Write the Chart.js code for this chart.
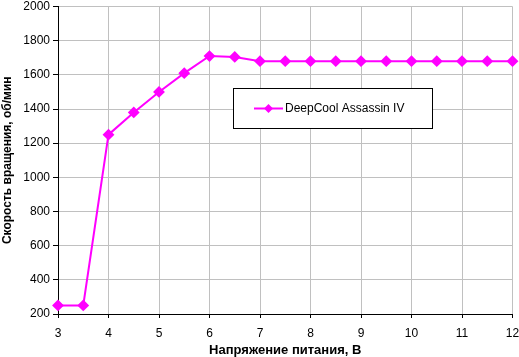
<!DOCTYPE html>
<html><head><meta charset="utf-8">
<script src="https://cdn.jsdelivr.net/npm/chart.js@4"></script>
<style>html,body{margin:0;padding:0;background:#fff}#c{display:block}</style>
</head><body>
<canvas id="c" width="519" height="357"></canvas>
<script>
const voltages = [3,3.5,4,4.5,5,5.5,6,6.5,7,7.5,8,8.5,9,9.5,10,10.5,11,11.5,12];
const rpm = [250,250,1250,1380,1500,1610,1710,1705,1680,1680,1680,1680,1680,1680,1680,1680,1680,1680,1680];
const seriesName = 'DeepCool Assassin IV';
const xTitle = 'Напряжение питания, В';
const yTitle = 'Скорость вращения, об/мин';
const FONT = "'Liberation Sans', Arial, sans-serif";

const legendBox = {
  id: 'legendBox',
  afterDraw(chart) {
    const ctx = chart.ctx;
    const ds = chart.data.datasets[0];
    const bx = 233, by = 88, bw = 199, bh = 40;
    ctx.save();
    ctx.fillStyle = '#fff';
    ctx.fillRect(bx, by, bw, bh);
    ctx.strokeStyle = '#000';
    ctx.lineWidth = 1;
    ctx.strokeRect(bx + 0.5, by + 0.5, bw, bh);
    const cy = by + bh / 2 + 0.5;
    ctx.strokeStyle = ds.borderColor;
    ctx.lineWidth = 2;
    ctx.beginPath(); ctx.moveTo(254, cy); ctx.lineTo(283, cy); ctx.stroke();
    ctx.fillStyle = ds.borderColor;
    ctx.beginPath();
    const r = 4.5, mx = 268.5;
    ctx.moveTo(mx, cy - r); ctx.lineTo(mx + r, cy); ctx.lineTo(mx, cy + r); ctx.lineTo(mx - r, cy); ctx.closePath(); ctx.fill();
    ctx.fillStyle = '#000';
    ctx.font = '12px ' + FONT;
    ctx.textBaseline = 'middle';
    ctx.fillText(ds.label, 285, cy);
    ctx.restore();
  }
};

new Chart(document.getElementById('c'), {
  type: 'line',
  data: {
    datasets: [{
      label: seriesName,
      data: voltages.map((v, i) => ({x: v, y: rpm[i]})),
      borderColor: '#ff00ff',
      backgroundColor: '#ff00ff',
      borderWidth: 2,
      pointStyle: 'rectRot',
      pointRadius: 4.5,
      pointHoverRadius: 4.5,
      tension: 0,
      clip: false
    }]
  },
  options: {
    responsive: false,
    animation: false,
    events: [],
    layout: {padding: {left: 0, right: 0, top: 5, bottom: 0}},
    plugins: {legend: {display: false}, tooltip: {enabled: false}},
    scales: {
      x: {
        type: 'linear', min: 3, max: 12,
        afterFit(s) { s.height = 43; s.paddingLeft = 0; s.paddingRight = 6; },
        ticks: {stepSize: 1, color: '#000', font: {family: FONT, size: 12}, padding: 8, maxRotation: 0, callback: v => String(v)},
        grid: {color: '#c0c0c0', tickColor: '#000', tickLength: 4, drawTicks: true},
        border: {color: '#000', width: 1},
        title: {display: true, text: xTitle, color: '#000', font: {family: FONT, size: 13, weight: 'bold'}, padding: {top: 2, bottom: -1}}
      },
      y: {
        min: 200, max: 2000,
        afterFit(s) { s.width = 58; s.paddingTop = 0; s.paddingBottom = 0; },
        ticks: {stepSize: 200, color: '#000', font: {family: FONT, size: 12}, padding: 3, callback: v => String(v)},
        grid: {color: '#c0c0c0', tickColor: '#000', tickLength: 5, drawTicks: true},
        border: {color: '#000', width: 1},
        title: {display: true, text: yTitle, color: '#000', font: {family: FONT, size: 12, weight: 'bold'}, padding: {top: 0, bottom: 2}}
      }
    }
  },
  plugins: [legendBox]
});
</script>
</body></html>
